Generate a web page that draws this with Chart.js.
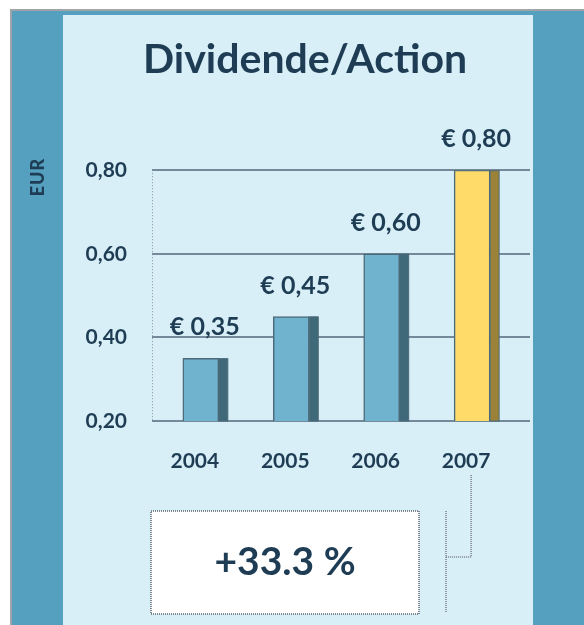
<!DOCTYPE html>
<html>
<head>
<meta charset="utf-8">
<script src="https://cdn.jsdelivr.net/npm/chart.js@4.4.0/dist/chart.umd.min.js"></script>
<style>
  html, body { margin: 0; padding: 0; background: #fff; }
  #wrap { width: 584px; height: 625px; }
  canvas { display: block; }
</style>
</head>
<body>
<div id="wrap"><canvas id="c"></canvas></div>
<script>
// data
const years = ['2004', '2005', '2006', '2007'];
const dividends = [0.35, 0.45, 0.60, 0.80];
const yTicks = [0.20, 0.40, 0.60, 0.80];

const NAVY = '#1e3d54';
const DARK_PANEL = '#559fbf';
const LIGHT_PANEL = '#d9eff7';
const BLUE = '#6fb3cf', BLUE_SIDE = '#3f6879';
const YELLOW = '#ffdc69', YELLOW_SIDE = '#9c8238';
const FONT = 'Lato';
const last = dividends.length - 1;

const fmt = v => v.toFixed(2).replace('.', ',');
const growth = (dividends[last] / dividends[last - 1] - 1) * 100;

// panels, EUR label, dotted y axis line
const backdrop = {
  id: 'backdrop',
  beforeDraw(chart) {
    const { ctx, width, height } = chart;
    ctx.save();
    ctx.fillStyle = '#fff';
    ctx.fillRect(0, 0, width, height);
    ctx.fillStyle = '#a0a4a8';
    ctx.fillRect(10, 9, width - 10, 2);
    ctx.fillRect(10, 9, 2, height - 9);
    ctx.fillStyle = DARK_PANEL;
    ctx.fillRect(12, 11, width - 12, height - 11);
    ctx.fillStyle = LIGHT_PANEL;
    ctx.fillRect(63, 15, 470, height - 15);

    ctx.translate(38, 177);
    ctx.rotate(-Math.PI / 2);
    ctx.fillStyle = NAVY;
    ctx.font = '900 18px ' + FONT;
    ctx.textAlign = 'center';
    ctx.textBaseline = 'middle';
    ctx.letterSpacing = '1px';
    ctx.fillText('EUR', 0, 0);
    ctx.restore();
  },
  beforeDatasetsDraw(chart) {
    const { ctx, chartArea } = chart;
    ctx.save();
    ctx.strokeStyle = '#8a949c';
    ctx.lineWidth = 1;
    ctx.setLineDash([1, 2]);
    ctx.beginPath();
    ctx.moveTo(chartArea.left + 0.5, chartArea.top);
    ctx.lineTo(chartArea.left + 0.5, chartArea.bottom);
    ctx.stroke();
    ctx.restore();
  }
};

// 3D side faces and value labels
const barExtras = {
  id: 'barExtras',
  afterDatasetsDraw(chart) {
    const { ctx, chartArea } = chart;
    const meta = chart.getDatasetMeta(0);
    ctx.save();
    meta.data.forEach((bar, i) => {
      const { x, y, base, width } = bar.getProps(['x', 'y', 'base', 'width'], true);
      const bottom = Math.min(base, chartArea.bottom);
      const side = 9;
      ctx.fillStyle = i === last ? YELLOW_SIDE : BLUE_SIDE;
      ctx.fillRect(x + width / 2, y, side, bottom - y);
      ctx.strokeStyle = '#4c6a78';
      ctx.lineWidth = 1;
      ctx.strokeRect(x + width / 2, y + 0.5, side, bottom - y - 0.5);

      ctx.fillStyle = NAVY;
      ctx.font = 'bold 25px ' + FONT;
      ctx.textAlign = 'center';
      ctx.textBaseline = 'middle';
      ctx.fillText('€ ' + fmt(dividends[i]), x + 4, y - 31);
    });
    ctx.restore();
  }
};

// growth box and connector
const growthBox = {
  id: 'growthBox',
  afterDraw(chart) {
    const { ctx, chartArea } = chart;
    const xs = chart.scales.x;
    const left = chartArea.left - 1, top = chartArea.bottom + 90;
    const w = 268, h = 103;
    ctx.save();
    ctx.fillStyle = '#fff';
    ctx.fillRect(left, top, w, h);
    ctx.setLineDash([1, 1]);
    ctx.strokeStyle = '#5a6068';
    ctx.lineWidth = 1.5;
    ctx.strokeRect(left, top, w, h);

    ctx.fillStyle = NAVY;
    ctx.font = 'bold 39px ' + FONT;
    ctx.textAlign = 'center';
    ctx.textBaseline = 'middle';
    ctx.fillText('+' + growth.toFixed(1) + ' %', left + w / 2, top + h / 2);

    const cx = xs.getPixelForValue(last) - 1;
    const vx = left + w + 27;
    ctx.lineWidth = 1.5;
    ctx.strokeStyle = '#7a8088';
    ctx.beginPath();
    ctx.moveTo(cx, chartArea.bottom + 54);
    ctx.lineTo(cx, top + 46);
    ctx.lineTo(vx, top + 46);
    ctx.moveTo(vx, top);
    ctx.lineTo(vx, top + h - 2);
    ctx.stroke();
    ctx.restore();
  }
};

new Chart(document.getElementById('c'), {
  type: 'bar',
  data: {
    datasets: [{
      data: dividends.map((v, i) => ({ x: i, y: v })),
      backgroundColor: ctx => ctx.dataIndex === last ? YELLOW : BLUE,
      borderColor: '#4c6a78',
      borderWidth: 1.5,
      barThickness: 36
    }]
  },
  options: {
    responsive: true,
    maintainAspectRatio: false,
    animation: false,
    layout: { padding: { left: 80, right: 54, top: 35, bottom: 134 } },
    plugins: {
      legend: { display: false },
      tooltip: { enabled: false },
      title: {
        display: true,
        text: 'Dividende/Action',
        color: NAVY,
        font: { family: FONT, weight: 'bold', size: 41 },
        padding: { top: 0, bottom: 86 }
      }
    },
    scales: {
      x: {
        type: 'linear',
        offset: false,
        min: -0.54,
        max: 3.64,
        afterBuildTicks: s => { s.ticks = years.map((_, i) => ({ value: i })); },
        afterFit: s => { s.height = 70; },
        grid: { display: false },
        border: { display: false },
        ticks: {
          callback: v => years[v],
          color: NAVY,
          font: { family: FONT, weight: 'bold', size: 21 },
          padding: 20,
          labelOffset: -6,
          maxRotation: 0
        }
      },
      y: {
        min: 0.2,
        max: 0.8,
        afterBuildTicks: s => { s.ticks = yTicks.map(v => ({ value: v })); },
        afterFit: s => { s.width = 72; },
        grid: { color: '#74899a', lineWidth: 2, drawTicks: false },
        border: { display: false },
        ticks: {
          callback: v => fmt(v),
          color: NAVY,
          font: { family: FONT, weight: 'bold', size: 21 },
          padding: 25
        }
      }
    }
  },
  plugins: [backdrop, barExtras, growthBox]
});
</script>
</body>
</html>
